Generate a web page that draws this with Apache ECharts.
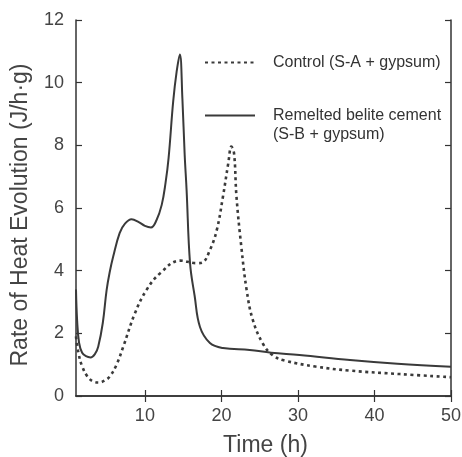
<!DOCTYPE html>
<html>
<head>
<meta charset="utf-8">
<script src="https://cdn.jsdelivr.net/npm/echarts@6/dist/echarts.min.js"></script>
<style>html,body{margin:0;padding:0;background:#fff}#c{width:462px;height:457px}</style>
</head>
<body>
<div id="c"></div>
<script>
var seriesNames = ['Control (S-A + gypsum)', 'Remelted belite cement\n(S-B + gypsum)'];
var xTicks = [10, 20, 30, 40, 50];

var controlX = [1, 1.3, 1.8, 2.5, 3.2, 4.0, 4.8, 5.4, 6.3, 7.17, 8.7, 10.2, 12, 14.6, 16.7, 17.5, 18.5, 19.4, 20.2, 20.9, 21.3, 21.65, 21.97, 22.6, 23.3, 24.1, 25.4, 26.7, 28.3, 32.3, 36.8, 43.3, 50];
var controlY = [1.9, 1.4, 0.95, 0.62, 0.47, 0.43, 0.5, 0.62, 1.0, 1.57, 2.64, 3.38, 3.92, 4.32, 4.24, 4.26, 4.66, 5.3, 6.36, 7.43, 7.96, 7.75, 6.36, 4.77, 3.38, 2.43, 1.68, 1.3, 1.13, 0.94, 0.81, 0.70, 0.6];

var belX = [1, 1.15, 1.4, 1.8, 2.3, 2.9, 3.5, 3.9, 4.5, 5.0, 5.4, 5.86, 6.7, 7.4, 8.26, 9.2, 10, 10.8, 11.5, 12.2, 12.7, 13.1, 13.7, 14.15, 14.57, 14.9, 15.2, 15.45, 15.9, 16.5, 17.2, 18.5, 20.2, 23.7, 26.5, 30.2, 36.8, 43, 50];
var belY = [3.4, 2.4, 1.7, 1.38, 1.27, 1.23, 1.35, 1.57, 2.33, 3.38, 3.95, 4.45, 5.2, 5.5, 5.64, 5.55, 5.43, 5.38, 5.6, 6.1, 6.8, 7.6, 9.4, 10.35, 10.9, 9.5, 7.7, 6.58, 4.24, 3.2, 2.2, 1.69, 1.53, 1.47, 1.38, 1.31, 1.15, 1.03, 0.93];

function pairs(xs, ys) { return xs.map(function (x, i) { return [x, ys[i]]; }); }

var FONT = '"Liberation Sans", Arial, Helvetica, sans-serif';
var AX = '#333';
var chart = echarts.init(document.getElementById('c'), null, {renderer: 'canvas'});
var tickCommon = {show: true, inside: true, length: 6, lineStyle: {color: AX, width: 1.2}};
chart.setOption({
  animation: false,
  backgroundColor: '#fff',
  textStyle: {fontFamily: FONT},
  grid: {left: 76, right: 11, top: 20, bottom: 61, containLabel: false, outerBoundsMode: 'none'},
  legend: {
    orient: 'vertical', left: 199, top: 48, itemWidth: 50, itemHeight: 14, itemGap: 15,
    itemStyle: {opacity: 0},
    formatter: function (name) { return name === seriesNames[1] ? '\n' + name : name; },
    textStyle: {fontFamily: FONT, fontSize: 16, color: '#333', lineHeight: 19, padding: [0, 0, 0, 13]},
    data: [seriesNames[0], seriesNames[1]]
  },
  xAxis: [
    {type: 'value', min: 1, max: 50, position: 'bottom',
     name: 'Time (h)', nameLocation: 'middle', nameGap: 38,
     nameTextStyle: {fontFamily: FONT, fontSize: 23, color: '#444', padding: [0, 0, 0, 4]},
     axisLine: {show: true, lineStyle: {color: AX, width: 1.5}},
     axisTick: Object.assign({customValues: xTicks}, tickCommon),
     axisLabel: {customValues: xTicks, fontFamily: FONT, fontSize: 18, color: '#444', margin: 11},
     splitLine: {show: false}},
    {type: 'value', min: 1, max: 50, position: 'top',
     axisLine: {show: true, lineStyle: {color: AX, width: 1.5}},
     axisTick: Object.assign({customValues: xTicks}, tickCommon),
     axisLabel: {show: false},
     splitLine: {show: false}}
  ],
  yAxis: [
    {type: 'value', min: 0, max: 12, interval: 2, position: 'left',
     name: 'Rate of Heat Evolution (J/h·g)', nameLocation: 'middle', nameGap: 44,
     nameTextStyle: {fontFamily: FONT, fontSize: 23, color: '#444', padding: [0, 14, 0, 0]},
     axisLine: {show: true, lineStyle: {color: AX, width: 1.5}},
     axisTick: tickCommon,
     axisLabel: {fontFamily: FONT, fontSize: 18, color: '#444', margin: 12},
     splitLine: {show: false}},
    {type: 'value', min: 0, max: 12, interval: 2, position: 'right',
     axisLine: {show: true, lineStyle: {color: AX, width: 1.5}},
     axisTick: tickCommon,
     axisLabel: {show: false},
     splitLine: {show: false}}
  ],
  series: [
    {name: seriesNames[0], type: 'line', data: pairs(controlX, controlY), showSymbol: false, symbol: 'none',
     smooth: 0.4, lineStyle: {color: '#3a3a3a', width: 2.6, type: [3, 3.5]}, itemStyle: {color: '#3a3a3a'}},
    {name: seriesNames[1], type: 'line', data: pairs(belX, belY), showSymbol: false, symbol: 'none',
     smooth: 0.4, lineStyle: {color: '#3a3a3a', width: 2}, itemStyle: {color: '#3a3a3a'}}
  ]
});
</script>
</body>
</html>
